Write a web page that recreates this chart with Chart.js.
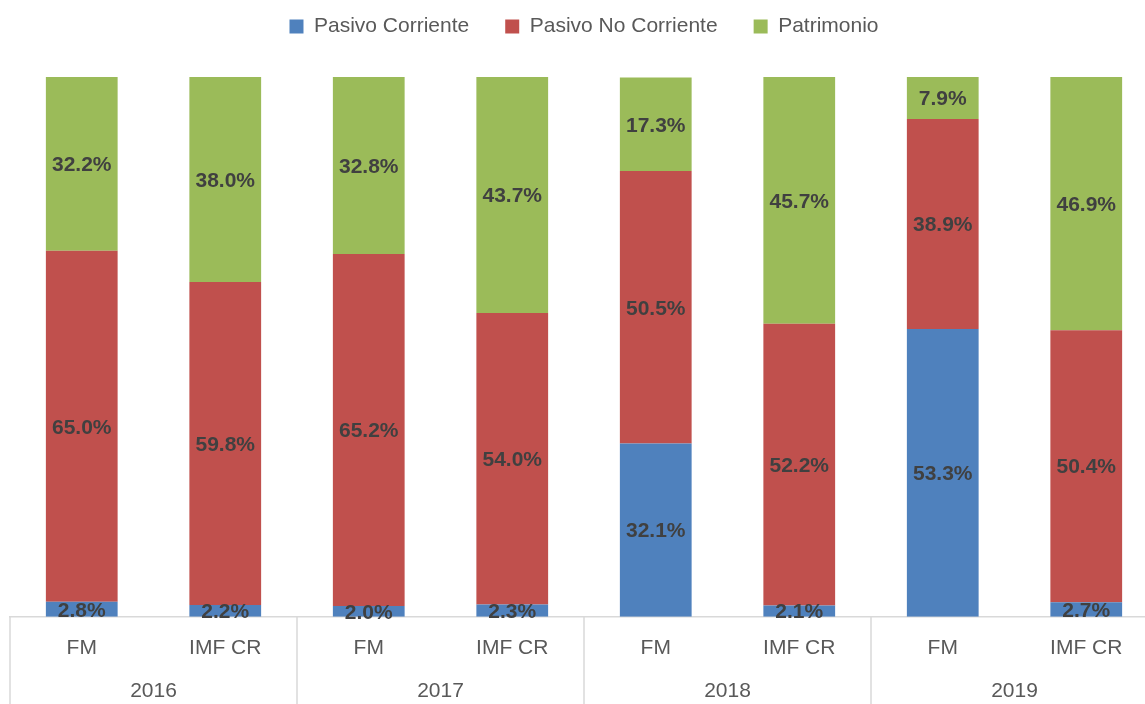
<!DOCTYPE html>
<html>
<head>
<meta charset="utf-8">
<script src="https://cdn.jsdelivr.net/npm/chart.js@4.4.1/dist/chart.umd.min.js"></script>
<style>
  html, body { margin: 0; padding: 0; background: #ffffff; overflow: hidden; }
  #wrap { width: 1160px; height: 704px; }
</style>
</head>
<body>
<div id="wrap"><canvas id="c" width="1160" height="704"></canvas></div>
<script>
// ---- data ----
const categoryLabels = ['FM', 'IMF CR', 'FM', 'IMF CR', 'FM', 'IMF CR', 'FM', 'IMF CR'];
const yearLabels = ['2016', '2017', '2018', '2019'];
const pasivoCorriente   = [2.8, 2.2, 2.0, 2.3, 32.1, 2.1, 53.3, 2.7];
const pasivoNoCorriente = [65.0, 59.8, 65.2, 54.0, 50.5, 52.2, 38.9, 50.4];
const patrimonio        = [32.2, 38.0, 32.8, 43.7, 17.3, 45.7, 7.9, 46.9];
const seriesNames = ['Pasivo Corriente', 'Pasivo No Corriente', 'Patrimonio'];

Chart.defaults.font.family = '"Liberation Sans", Arial, sans-serif';

const legendMargin = {
  id: 'legendMargin',
  beforeInit(chart) {
    const orig = chart.legend.fit;
    chart.legend.fit = function () {
      orig.call(this);
      this.height += 30;
    };
  }
};

const valueLabels = {
  id: 'valueLabels',
  afterDatasetsDraw(chart) {
    const ctx = chart.ctx;
    ctx.save();
    ctx.font = 'bold 21px "Liberation Sans", Arial, sans-serif';
    ctx.fillStyle = '#404040';
    ctx.textAlign = 'center';
    ctx.textBaseline = 'middle';
    chart.data.datasets.forEach((ds, di) => {
      const meta = chart.getDatasetMeta(di);
      meta.data.forEach((bar, i) => {
        const v = ds.data[i];
        const y = (bar.y + bar.base) / 2;
        ctx.fillText(v.toFixed(1) + '%', bar.x, y + 1.5);
      });
    });
    ctx.restore();
  }
};

const separators = {
  id: 'separators',
  afterDraw(chart) {
    const xs = chart.scales.x;
    const ctx = chart.ctx;
    const n = categoryLabels.length;
    const step = xs.getPixelForTick(1) - xs.getPixelForTick(0);
    ctx.save();
    ctx.strokeStyle = '#d9d9d9';
    ctx.lineWidth = 1.5;
    for (let i = 0; i <= n; i += 2) {
      const px = xs.getPixelForTick(Math.min(i, n - 1)) + (i === n ? step / 2 : -step / 2);
      ctx.beginPath();
      ctx.moveTo(px, chart.chartArea.bottom);
      ctx.lineTo(px, chart.height);
      ctx.stroke();
    }
    ctx.restore();
  }
};

new Chart(document.getElementById('c'), {
  type: 'bar',
  data: {
    labels: categoryLabels,
    datasets: [
      { label: seriesNames[0], data: pasivoCorriente, backgroundColor: '#4F81BD', borderWidth: 0 },
      { label: seriesNames[1], data: pasivoNoCorriente, backgroundColor: '#C0504D', borderWidth: 0 },
      { label: seriesNames[2], data: patrimonio, backgroundColor: '#9BBB59', borderWidth: 0 }
    ]
  },
  options: {
    responsive: false,
    animation: false,
    devicePixelRatio: 1,
    layout: { padding: { top: -20, left: 10, right: 2, bottom: 0 } },
    datasets: { bar: { categoryPercentage: 1.0, barPercentage: 0.5 } },
    plugins: {
      legend: {
        position: 'top',
        labels: {
          boxWidth: 14,
          boxHeight: 14,
          padding: 36,
          color: '#595959',
          font: { size: 21 }
        }
      },
      tooltip: { enabled: false }
    },
    scales: {
      x: {
        stacked: true,
        offset: true,
        grid: { display: false, drawTicks: false },
        border: { display: true, color: '#d9d9d9', width: 1.5 },
        ticks: { color: '#595959', font: { size: 21 }, padding: 18.4, maxRotation: 0, autoSkip: false }
      },
      x2: {
        type: 'category',
        labels: yearLabels,
        position: 'bottom',
        offset: true,
        grid: { display: false, drawTicks: false },
        border: { display: false },
        ticks: { color: '#595959', font: { size: 21 }, padding: 0, maxRotation: 0, autoSkip: false }
      },
      y: {
        stacked: true,
        display: false,
        min: 0,
        max: 100
      }
    }
  },
  plugins: [legendMargin, valueLabels, separators]
});
</script>
</body>
</html>
